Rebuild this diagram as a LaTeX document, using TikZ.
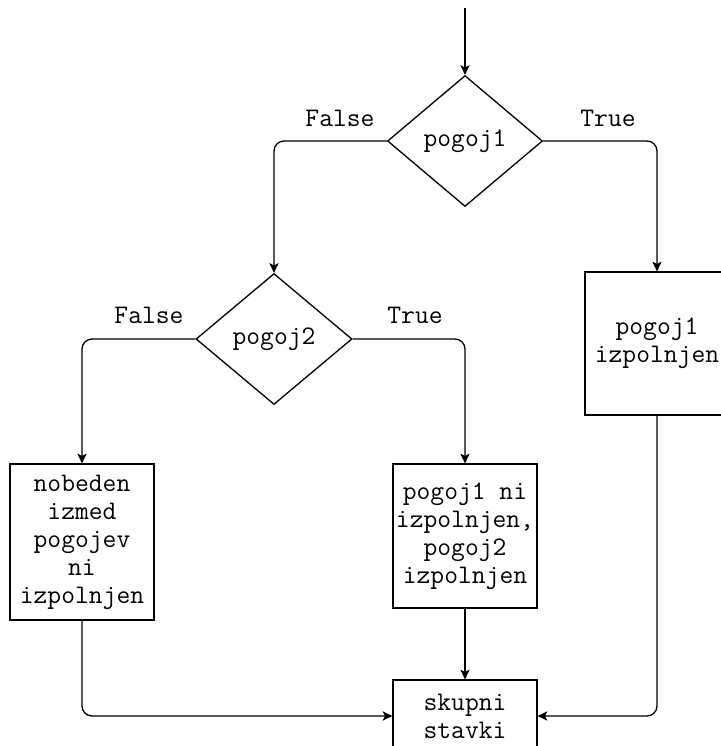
\documentclass[tikz,border=0pt]{standalone}
\usepackage{fontspec}
\usetikzlibrary{shapes.geometric,arrows.meta}
\begin{document}
\begin{tikzpicture}[x=0.5pt,y=-0.5pt,
  every node/.style={font=\ttfamily\fontsize{13.4}{14}\selectfont},
  cond/.style={diamond,draw,line width=0.65pt,inner sep=0pt,minimum width=77.5pt,minimum height=65.5pt},
  box/.style={rectangle,draw,line width=0.65pt,inner sep=0pt,minimum width=72pt,align=center},
  conn/.style={line width=0.65pt,rounded corners=5pt,-{Stealth[length=4.8pt,width=4.6pt,inset=1.1pt]}},
  lbl/.style={inner sep=0pt}]
\useasboundingbox (0,0) rectangle (721,746);
\coordinate (start) at (465,8);
\node[cond] (d1) at (465,141) {pogoj1};
\node[cond,minimum width=78pt] (d2) at (274,339) {pogoj2};
\node[box,minimum height=71.5pt] (rbox) at (657,343.5) {pogoj1\\izpolnjen};
\node[box,minimum height=78pt] (lbox) at (82,542) {nobeden\\izmed\\pogojev\\ni\\izpolnjen};
\node[box,minimum height=72pt] (mbox) at (465,536) {pogoj1 ni\\izpolnjen,\\pogoj2\\izpolnjen};
\node[box,minimum height=36pt] (bbox) at (465,716) {skupni\\stavki};
\node[lbl] (f1) at (340,118) {False};
\node[lbl] (t1) at (608,118) {True};
\node[lbl] (f2) at (149,315) {False};
\node[lbl] (t2) at (415,315) {True};
\draw[conn] (start) -- (d1.north);
\draw[conn] (d1.west) -- (d2.north |- d1.west) -- (d2.north);
\draw[conn] (d1.east) -- (rbox.north |- d1.east) -- (rbox.north);
\draw[conn] (d2.west) -- (lbox.north |- d2.west) -- (lbox.north);
\draw[conn] (d2.east) -- (mbox.north |- d2.east) -- (mbox.north);
\draw[conn] (mbox.south) -- (bbox.north);
\draw[conn] (lbox.south) -- (lbox.south |- bbox.west) -- (bbox.west);
\draw[conn] (rbox.south) -- (rbox.south |- bbox.east) -- (bbox.east);
\end{tikzpicture}
\end{document}
